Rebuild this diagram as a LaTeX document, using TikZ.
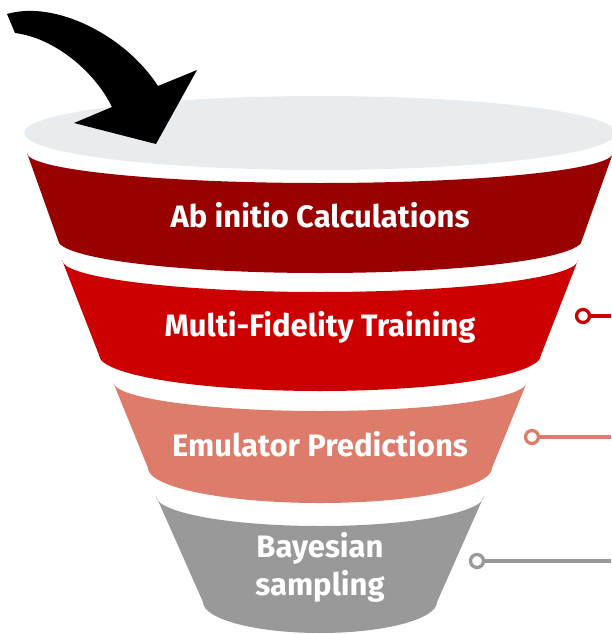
\documentclass[tikz,border=0pt]{standalone}
\usepackage{fontspec}
\setmainfont{Fira Sans}
\usetikzlibrary{positioning}
\definecolor{rimfill}{HTML}{E9ECEF}
\definecolor{stageone}{HTML}{990000}
\definecolor{stagetwo}{HTML}{CC0000}
\definecolor{stagethree}{HTML}{DE7C6B}
\definecolor{stagefour}{HTML}{999999}
\tikzset{
  bandtext/.style={font=\fontsize{31}{38}\selectfont\bfseries, text=white,
    align=center, inner sep=0pt},
  dot/.style={circle, draw=#1, fill=white, line width=3.3pt,
    minimum size=13pt, inner sep=0pt},
  lead/.style={draw=#1, line width=3.3pt},
}

\begin{document}
\begin{tikzpicture}[x=1pt,y=-1pt]
\useasboundingbox (0,0) rectangle (611,634);

% ---- Rim of the funnel ----------------------------------------------------
\fill[rimfill] (320,133) ellipse[x radius=296, y radius=37];

% ---- Bands: top y / top half width / top dip / bottom y / ... / colour ----
\foreach \yt/\wt/\dt/\yb/\wb/\db/\c in {
    153/293/30/240/262/33/stageone,
    260/258/32/355/221/36/stagetwo,
    382/207/29/468/172/35/stagethree,
    496/164/30/602/117/31/stagefour}
  \fill[\c] ({320-\wt},\yt)
    arc[start angle=180, end angle=0, x radius=\wt, y radius=\dt]
    -- ({320+\wb},\yb)
    arc[start angle=0, end angle=180, x radius=\wb, y radius=\db] -- cycle;

\node[bandtext] (ab) at (320,215) {Ab initio Calculations};
\node[bandtext] (mf) at (320,327) {Multi-Fidelity Training};
\node[bandtext] (em) at (320,444) {Emulator Predictions};
\node[bandtext] (bs) at (320,567) {Bayesian\\ sampling};

% ---- Input arrow ----------------------------------------------------------
\fill[black] (7,14) .. controls (55,0) and (125,35) .. (158,86)
  -- (197,70) -- (156,144) -- (74,123) -- (112,107)
  .. controls (95,72) and (55,38) .. (15,33) -- cycle;

% ---- Side leads -----------------------------------------------------------
\node[dot=stagetwo] (dmf) at (583,316) {};
\node[dot=stagethree] (dem) at (532,437) {};
\node[dot=stagefour] (dbs) at (477,561) {};
\coordinate (emf) at (611,316);
\coordinate (eem) at (611,437);
\coordinate (ebs) at (611,561);

\foreach \n/\c in {mf/stagetwo,em/stagethree,bs/stagefour}
  \draw[lead=\c] (d\n) -- (e\n);

\end{tikzpicture}
\end{document}
